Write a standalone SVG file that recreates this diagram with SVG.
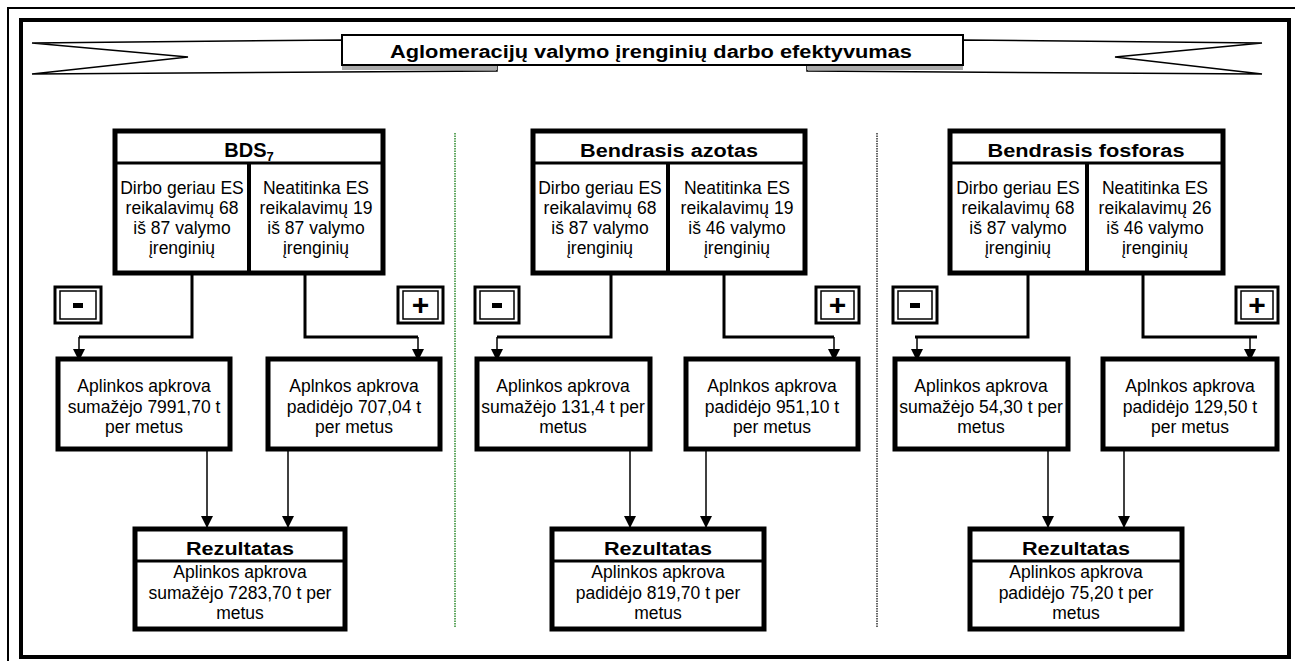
<svg xmlns="http://www.w3.org/2000/svg" width="1295" height="661" viewBox="0 0 1295 661">
<style>
text{font-family:"Liberation Sans",Arial,sans-serif;fill:#000;text-anchor:middle}
.t{font-size:17.5px}
.b{font-size:18px;font-weight:bold}
.box{fill:#fff;stroke:#000;stroke-width:5}
.sep{stroke:#000;stroke-width:3}
.div{stroke:#000;stroke-width:4}
.sign{fill:#fff;stroke:#000;stroke-width:3}
.signin{fill:none;stroke:#000;stroke-width:1.5}
.plus{font-size:30px;font-weight:bold}
.thick{fill:none;stroke:#000;stroke-width:3}
.arr{fill:none;stroke:#000;stroke-width:1.5;marker-end:url(#ah)}
.band{fill:#fff;stroke:#000;stroke-width:1.5;stroke-linejoin:miter}
</style>
<defs>
<marker id="ah" markerUnits="userSpaceOnUse" markerWidth="14" markerHeight="14" refX="12" refY="6" orient="auto">
<path d="M0,0 L12,6 L0,12 Z" fill="#000"/>
</marker>
</defs>
<rect width="1295" height="661" fill="#fff"/>
<g id="frame">
<path d="M8,661 L8,8 L1295,8" fill="none" stroke="#000" stroke-width="2"/>
<rect x="21" y="20" width="1268" height="637" fill="none" stroke="#000" stroke-width="4"/>
<line x1="455" y1="133" x2="455" y2="627" stroke="#2e8b2e" stroke-width="1.5" stroke-dasharray="1.5,1"/>
<line x1="877" y1="133" x2="877" y2="627" stroke="#333" stroke-width="1.5" stroke-dasharray="1.5,1"/>
</g>
<g id="title">
<polygon class="band" points="342,40 32,43 188,57 32,74 497,71 497,65 342,65"/>
<polygon class="band" points="963,40 1262,43 1115,57 1262,74 807,71 807,65 963,65"/>
<rect x="342" y="65" width="155" height="5" fill="#aaa"/>
<rect x="807" y="65" width="156" height="5" fill="#aaa"/>
<rect x="342" y="35" width="621" height="30" fill="#fff" stroke="#000" stroke-width="2"/>
<text class="b" x="651" y="58" textLength="522" lengthAdjust="spacingAndGlyphs">Aglomeracijų valymo įrenginių darbo efektyvumas</text>
</g>
<g id="connectors">
<polyline class="thick" points="192,273 192,337 79,337"/>
<line class="arr" x1="79" y1="337" x2="79" y2="361"/>
<polyline class="thick" points="305,273 305,337 418,337"/>
<line class="arr" x1="418" y1="337" x2="418" y2="361"/>
<line class="arr" x1="207" y1="449" x2="207" y2="528"/>
<line class="arr" x1="288" y1="449" x2="288" y2="528"/>
<polyline class="thick" points="611,273 611,337 497,337"/>
<line class="arr" x1="497" y1="337" x2="497" y2="361"/>
<polyline class="thick" points="724,273 724,337 834,337"/>
<line class="arr" x1="834" y1="337" x2="834" y2="361"/>
<line class="arr" x1="630" y1="449" x2="630" y2="528"/>
<line class="arr" x1="706" y1="449" x2="706" y2="528"/>
<polyline class="thick" points="1028,273 1028,337 915,337"/>
<line class="arr" x1="917" y1="337" x2="917" y2="361"/>
<polyline class="thick" points="1143,273 1143,337 1257,337"/>
<line class="arr" x1="1250" y1="337" x2="1250" y2="361"/>
<line class="arr" x1="1048" y1="449" x2="1048" y2="528"/>
<line class="arr" x1="1124" y1="449" x2="1124" y2="528"/>
</g>
<g id="p1-head">
<rect class="box" x="115" y="131" width="268" height="142"/>
<line class="sep" x1="115" y1="163" x2="383" y2="163"/>
<line class="div" x1="249" y1="163" x2="249" y2="273"/>
<text class="b" x="249" y="157"><tspan font-size="20">BDS</tspan><tspan font-size="13" dy="4">7</tspan></text>
<text class="t" x="182" y="194">Dirbo geriau ES</text>
<text class="t" x="182" y="214">reikalavimų 68</text>
<text class="t" x="182" y="234">iš 87 valymo</text>
<text class="t" x="182" y="254">įrenginių</text>
<text class="t" x="316" y="194">Neatitinka ES</text>
<text class="t" x="316" y="214">reikalavimų 19</text>
<text class="t" x="316" y="234">iš 87 valymo</text>
<text class="t" x="316" y="254">įrenginių</text>
</g>
<g id="p1-minus">
<rect class="sign" x="55" y="287" width="46" height="36"/>
<rect class="signin" x="60" y="291" width="36" height="28"/>
<rect x="73" y="303" width="10" height="5" fill="#000"/>
</g>
<g id="p1-plus">
<rect class="sign" x="398" y="287" width="45" height="36"/>
<rect class="signin" x="403" y="291" width="35" height="28"/>
<text class="plus" x="420.5" y="315">+</text>
</g>
<g id="p1-left">
<rect class="box" x="58" y="359" width="172" height="90"/>
<text class="t" x="144" y="392">Aplinkos apkrova</text>
<text class="t" x="144" y="413">sumažėjo 7991,70 t</text>
<text class="t" x="144" y="433">per metus</text>
</g>
<g id="p1-right">
<rect class="box" x="268" y="359" width="172" height="90"/>
<text class="t" x="354" y="392">Aplnkos apkrova</text>
<text class="t" x="354" y="413">padidėjo 707,04 t</text>
<text class="t" x="354" y="433">per metus</text>
</g>
<g id="p1-result">
<rect class="box" x="135" y="529" width="210" height="100"/>
<line class="sep" x1="135" y1="561" x2="345" y2="561"/>
<text class="b" x="240" y="555" textLength="108" lengthAdjust="spacingAndGlyphs">Rezultatas</text>
<text class="t" x="240" y="578">Aplinkos apkrova</text>
<text class="t" x="240" y="599">sumažėjo 7283,70 t per</text>
<text class="t" x="240" y="619">metus</text>
</g>
<g id="p2-head">
<rect class="box" x="533" y="131" width="272" height="142"/>
<line class="sep" x1="533" y1="163" x2="805" y2="163"/>
<line class="div" x1="668" y1="163" x2="668" y2="273"/>
<text class="b" x="669" y="157" textLength="178" lengthAdjust="spacingAndGlyphs">Bendrasis azotas</text>
<text class="t" x="600" y="194">Dirbo geriau ES</text>
<text class="t" x="600" y="214">reikalavimų 68</text>
<text class="t" x="600" y="234">iš 87 valymo</text>
<text class="t" x="600" y="254">įrenginių</text>
<text class="t" x="737" y="194">Neatitinka ES</text>
<text class="t" x="737" y="214">reikalavimų 19</text>
<text class="t" x="737" y="234">iš 46 valymo</text>
<text class="t" x="737" y="254">įrenginių</text>
</g>
<g id="p2-minus">
<rect class="sign" x="475" y="287" width="44" height="36"/>
<rect class="signin" x="480" y="291" width="34" height="28"/>
<rect x="492" y="303" width="10" height="5" fill="#000"/>
</g>
<g id="p2-plus">
<rect class="sign" x="816" y="287" width="43" height="36"/>
<rect class="signin" x="821" y="291" width="33" height="28"/>
<text class="plus" x="837.5" y="315">+</text>
</g>
<g id="p2-left">
<rect class="box" x="477" y="359" width="173" height="90"/>
<text class="t" x="563" y="392">Aplinkos apkrova</text>
<text class="t" x="563" y="413">sumažėjo 131,4 t per</text>
<text class="t" x="563" y="433">metus</text>
</g>
<g id="p2-right">
<rect class="box" x="686" y="359" width="172" height="90"/>
<text class="t" x="772" y="392">Aplnkos apkrova</text>
<text class="t" x="772" y="413">padidėjo 951,10 t</text>
<text class="t" x="772" y="433">per metus</text>
</g>
<g id="p2-result">
<rect class="box" x="552" y="529" width="212" height="100"/>
<line class="sep" x1="552" y1="561" x2="764" y2="561"/>
<text class="b" x="658" y="555" textLength="108" lengthAdjust="spacingAndGlyphs">Rezultatas</text>
<text class="t" x="658" y="578">Aplinkos apkrova</text>
<text class="t" x="658" y="599">padidėjo 819,70 t per</text>
<text class="t" x="658" y="619">metus</text>
</g>
<g id="p3-head">
<rect class="box" x="950" y="131" width="273" height="142"/>
<line class="sep" x1="950" y1="163" x2="1223" y2="163"/>
<line class="div" x1="1087" y1="163" x2="1087" y2="273"/>
<text class="b" x="1086" y="157" textLength="197" lengthAdjust="spacingAndGlyphs">Bendrasis fosforas</text>
<text class="t" x="1018" y="194">Dirbo geriau ES</text>
<text class="t" x="1018" y="214">reikalavimų 68</text>
<text class="t" x="1018" y="234">iš 87 valymo</text>
<text class="t" x="1018" y="254">įrenginių</text>
<text class="t" x="1155" y="194">Neatitinka ES</text>
<text class="t" x="1155" y="214">reikalavimų 26</text>
<text class="t" x="1155" y="234">iš 46 valymo</text>
<text class="t" x="1155" y="254">įrenginių</text>
</g>
<g id="p3-minus">
<rect class="sign" x="893" y="287" width="44" height="36"/>
<rect class="signin" x="898" y="291" width="34" height="28"/>
<rect x="910" y="303" width="10" height="5" fill="#000"/>
</g>
<g id="p3-plus">
<rect class="sign" x="1236" y="287" width="42" height="36"/>
<rect class="signin" x="1241" y="291" width="32" height="28"/>
<text class="plus" x="1257" y="315">+</text>
</g>
<g id="p3-left">
<rect class="box" x="895" y="359" width="173" height="90"/>
<text class="t" x="981" y="392">Aplinkos apkrova</text>
<text class="t" x="981" y="413">sumažėjo 54,30 t per</text>
<text class="t" x="981" y="433">metus</text>
</g>
<g id="p3-right">
<rect class="box" x="1103" y="359" width="174" height="90"/>
<text class="t" x="1190" y="392">Aplnkos apkrova</text>
<text class="t" x="1190" y="413">padidėjo 129,50 t</text>
<text class="t" x="1190" y="433">per metus</text>
</g>
<g id="p3-result">
<rect class="box" x="970" y="529" width="212" height="100"/>
<line class="sep" x1="970" y1="561" x2="1182" y2="561"/>
<text class="b" x="1076" y="555" textLength="108" lengthAdjust="spacingAndGlyphs">Rezultatas</text>
<text class="t" x="1076" y="578">Aplinkos apkrova</text>
<text class="t" x="1076" y="599">padidėjo 75,20 t per</text>
<text class="t" x="1076" y="619">metus</text>
</g>
</svg>
